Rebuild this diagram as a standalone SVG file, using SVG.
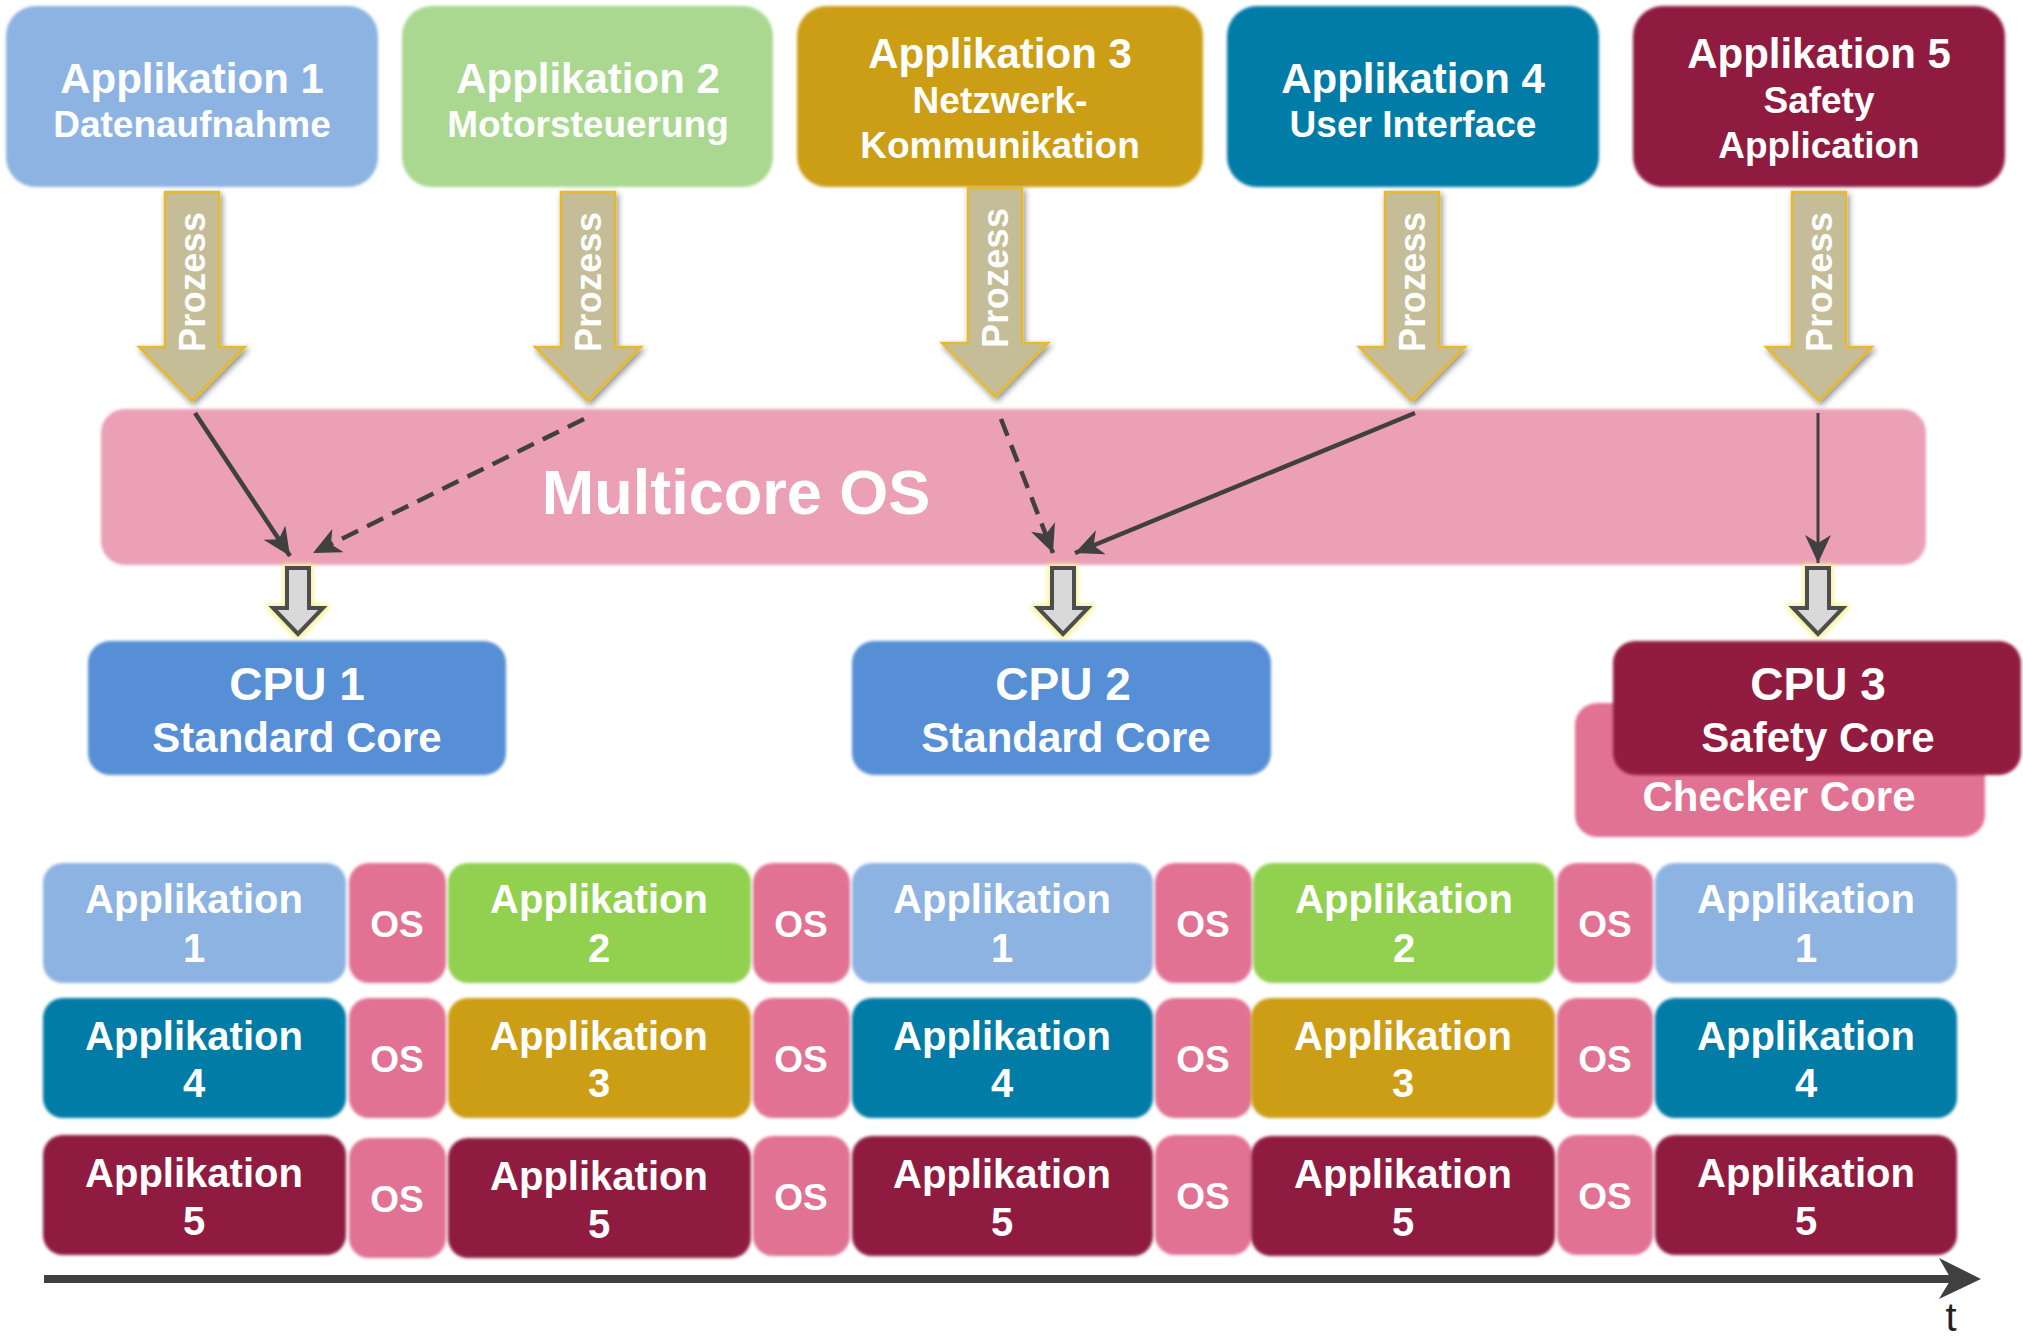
<svg xmlns="http://www.w3.org/2000/svg" width="2023" height="1339" viewBox="0 0 2023 1339">
<style>
text{font-family:"Liberation Sans",Arial,sans-serif;font-weight:bold;fill:#fff;text-anchor:middle}
.t1{font-size:42px}
.t2{font-size:37px}
.cpu{font-size:46px}
.core{font-size:42px}
.tl{font-size:40px}
.os{font-size:37px}
.pz{font-size:36px}
.c1{fill:#8db3e2}.c2{fill:#aad890}.c3{fill:#cc9e12}.c4{fill:#017ba7}.c5{fill:#8f1b3f}
.g2{fill:#92d050}.osf{fill:#e27294}
.con{fill:none;stroke:#404040;stroke-width:4.5;marker-end:url(#ah)}
.dash{stroke-dasharray:18 10}
.proz{fill:#c4bd97;stroke:#e8b92a;stroke-width:2.5}
.gray{fill:#d9d9d9;stroke:#4d4d4d;stroke-width:4}
</style>
<defs>
<filter id="soft" x="-5%" y="-5%" width="110%" height="110%"><feGaussianBlur stdDeviation="1.4"/></filter>
<filter id="shadow" x="-30%" y="-10%" width="160%" height="130%">
<feGaussianBlur in="SourceAlpha" stdDeviation="3"/><feOffset dx="2" dy="3" result="b"/>
<feComponentTransfer in="b" result="s"><feFuncA type="linear" slope="0.45"/></feComponentTransfer>
<feMerge><feMergeNode in="s"/><feMergeNode in="SourceGraphic"/></feMerge></filter>
<filter id="glow" x="-60%" y="-30%" width="220%" height="160%">
<feMorphology in="SourceAlpha" operator="dilate" radius="2" result="d"/>
<feGaussianBlur in="d" stdDeviation="2.5" result="bl"/>
<feFlood flood-color="#f4f08a" flood-opacity="0.9"/><feComposite in2="bl" operator="in" result="g"/>
<feMerge><feMergeNode in="g"/><feMergeNode in="SourceGraphic"/></feMerge></filter>
<marker id="ah" markerUnits="userSpaceOnUse" markerWidth="30" markerHeight="26" refX="28" refY="13" orient="auto">
<path d="M0,0 L28,13 L0,26 L8,13 Z" fill="#404040"/></marker>
<path id="proz" d="M-27,0 H27 V155 H53 L0,209 L-53,155 H-27 Z"/>
<path id="garr" d="M-11,568 H11 V608 H25 L0,634 L-25,608 H-11 Z"/>
</defs>
<rect width="2023" height="1339" fill="#fff"/>

<!-- Multicore OS -->
<g id="multicore-os">
<rect x="101" y="409" width="1825" height="156" rx="24" fill="#eba0b5" filter="url(#soft)"/>
<text x="736" y="514" style="font-size:63px">Multicore OS</text>
</g>

<!-- Top applications -->
<g id="app1">
<rect x="6" y="6" width="372" height="181" rx="30" class="c1" filter="url(#soft)"/>
<text x="192" y="93" class="t1">Applikation 1</text>
<text x="192" y="137" class="t2">Datenaufnahme</text>
</g>
<g id="app2">
<rect x="402" y="6" width="371" height="181" rx="30" class="c2" filter="url(#soft)"/>
<text x="588" y="93" class="t1">Applikation 2</text>
<text x="588" y="137" class="t2">Motorsteuerung</text>
</g>
<g id="app3">
<rect x="797" y="6" width="406" height="181" rx="30" class="c3" filter="url(#soft)"/>
<text x="1000" y="68" class="t1">Applikation 3</text>
<text x="1000" y="113" class="t2">Netzwerk-</text>
<text x="1000" y="158" class="t2">Kommunikation</text>
</g>
<g id="app4">
<rect x="1227" y="6" width="372" height="181" rx="30" class="c4" filter="url(#soft)"/>
<text x="1413" y="93" class="t1">Applikation 4</text>
<text x="1413" y="137" class="t2">User Interface</text>
</g>
<g id="app5">
<rect x="1633" y="6" width="372" height="181" rx="30" class="c5" filter="url(#soft)"/>
<text x="1819" y="68" class="t1">Applikation 5</text>
<text x="1819" y="113" class="t2">Safety</text>
<text x="1819" y="158" class="t2">Application</text>
</g>

<!-- Prozess arrows -->
<g id="prozess-arrows">
<g id="proz1"><use href="#proz" transform="translate(192,192)" class="proz" filter="url(#shadow)"/><text class="pz" transform="translate(192,282) rotate(-90)" y="13" textLength="140">Prozess</text></g>
<g id="proz2"><use href="#proz" transform="translate(588,192)" class="proz" filter="url(#shadow)"/><text class="pz" transform="translate(588,282) rotate(-90)" y="13" textLength="140">Prozess</text></g>
<g id="proz3"><use href="#proz" transform="translate(995,188)" class="proz" filter="url(#shadow)"/><text class="pz" transform="translate(995,278) rotate(-90)" y="13" textLength="140">Prozess</text></g>
<g id="proz4"><use href="#proz" transform="translate(1412,192)" class="proz" filter="url(#shadow)"/><text class="pz" transform="translate(1412,282) rotate(-90)" y="13" textLength="140">Prozess</text></g>
<g id="proz5"><use href="#proz" transform="translate(1819,192)" class="proz" filter="url(#shadow)"/><text class="pz" transform="translate(1819,282) rotate(-90)" y="13" textLength="140">Prozess</text></g>
</g>

<!-- CPU input arrows -->
<g id="cpu-arrows">
<use href="#garr" transform="translate(298,0)" class="gray" filter="url(#glow)"/>
<use href="#garr" transform="translate(1063,0)" class="gray" filter="url(#glow)"/>
<use href="#garr" transform="translate(1818,0)" class="gray" filter="url(#glow)"/>
</g>

<!-- Connectors -->
<g id="connectors">
<path class="con" d="M195,413 L290,556"/>
<path class="con dash" d="M584,419 L313,553"/>
<path class="con dash" d="M1001,419 L1053,553"/>
<path class="con" d="M1415,413 L1075,553"/>
<path class="con" style="stroke-width:3" d="M1818,413 L1818,563"/>
</g>

<!-- CPUs -->
<g id="cpu1">
<rect x="88" y="641" width="418" height="134" rx="22" fill="#568fd5" filter="url(#soft)"/>
<text x="297" y="700" class="cpu">CPU 1</text>
<text x="297" y="752" class="core">Standard Core</text>
</g>
<g id="cpu2">
<rect x="852" y="641" width="419" height="134" rx="22" fill="#568fd5" filter="url(#soft)"/>
<text x="1063" y="700" class="cpu">CPU 2</text>
<text x="1066" y="752" class="core">Standard Core</text>
</g>
<g id="checker-core">
<rect x="1575" y="703" width="410" height="134" rx="22" fill="#e27294" filter="url(#soft)"/>
<text x="1779" y="811" class="core">Checker Core</text>
</g>
<g id="cpu3">
<rect x="1613" y="641" width="408" height="134" rx="22" fill="#921c40" filter="url(#soft)"/>
<text x="1818" y="700" class="cpu">CPU 3</text>
<text x="1818" y="752" class="core">Safety Core</text>
</g>

<!-- Timeline -->
<g id="timeline-row1">
<g id="r1a1"><rect x="43" y="863" width="303" height="120" rx="20" class="c1" filter="url(#soft)"/><text x="194" y="913" class="tl">Applikation</text><text x="194" y="962" class="tl">1</text></g>
<g id="r1o1"><rect x="349" y="863" width="97" height="120" rx="20" class="osf" filter="url(#soft)"/><text x="397" y="937" class="os">OS</text></g>
<g id="r1a2"><rect x="448" y="863" width="303" height="120" rx="20" class="g2" filter="url(#soft)"/><text x="599" y="913" class="tl">Applikation</text><text x="599" y="962" class="tl">2</text></g>
<g id="r1o2"><rect x="753" y="863" width="97" height="120" rx="20" class="osf" filter="url(#soft)"/><text x="801" y="937" class="os">OS</text></g>
<g id="r1a3"><rect x="852" y="863" width="301" height="120" rx="20" class="c1" filter="url(#soft)"/><text x="1002" y="913" class="tl">Applikation</text><text x="1002" y="962" class="tl">1</text></g>
<g id="r1o3"><rect x="1155" y="863" width="97" height="120" rx="20" class="osf" filter="url(#soft)"/><text x="1203" y="937" class="os">OS</text></g>
<g id="r1a4"><rect x="1253" y="863" width="302" height="120" rx="20" class="g2" filter="url(#soft)"/><text x="1404" y="913" class="tl">Applikation</text><text x="1404" y="962" class="tl">2</text></g>
<g id="r1o4"><rect x="1557" y="863" width="96" height="120" rx="20" class="osf" filter="url(#soft)"/><text x="1605" y="937" class="os">OS</text></g>
<g id="r1a5"><rect x="1655" y="863" width="302" height="120" rx="20" class="c1" filter="url(#soft)"/><text x="1806" y="913" class="tl">Applikation</text><text x="1806" y="962" class="tl">1</text></g>
</g>
<g id="timeline-row2">
<g id="r2a1"><rect x="43" y="998" width="303" height="120" rx="20" class="c4" filter="url(#soft)"/><text x="194" y="1050" class="tl">Applikation</text><text x="194" y="1097" class="tl">4</text></g>
<g id="r2o1"><rect x="349" y="998" width="97" height="120" rx="20" class="osf" filter="url(#soft)"/><text x="397" y="1072" class="os">OS</text></g>
<g id="r2a2"><rect x="448" y="998" width="303" height="120" rx="20" class="c3" filter="url(#soft)"/><text x="599" y="1050" class="tl">Applikation</text><text x="599" y="1097" class="tl">3</text></g>
<g id="r2o2"><rect x="753" y="998" width="97" height="120" rx="20" class="osf" filter="url(#soft)"/><text x="801" y="1072" class="os">OS</text></g>
<g id="r2a3"><rect x="852" y="998" width="301" height="120" rx="20" class="c4" filter="url(#soft)"/><text x="1002" y="1050" class="tl">Applikation</text><text x="1002" y="1097" class="tl">4</text></g>
<g id="r2o3"><rect x="1155" y="998" width="97" height="120" rx="20" class="osf" filter="url(#soft)"/><text x="1203" y="1072" class="os">OS</text></g>
<g id="r2a4"><rect x="1251" y="998" width="304" height="120" rx="20" class="c3" filter="url(#soft)"/><text x="1403" y="1050" class="tl">Applikation</text><text x="1403" y="1097" class="tl">3</text></g>
<g id="r2o4"><rect x="1557" y="998" width="96" height="120" rx="20" class="osf" filter="url(#soft)"/><text x="1605" y="1072" class="os">OS</text></g>
<g id="r2a5"><rect x="1655" y="998" width="302" height="120" rx="20" class="c4" filter="url(#soft)"/><text x="1806" y="1050" class="tl">Applikation</text><text x="1806" y="1097" class="tl">4</text></g>
</g>
<g id="timeline-row3">
<g id="r3a1"><rect x="43" y="1135" width="303" height="120" rx="20" class="c5" filter="url(#soft)"/><text x="194" y="1187" class="tl">Applikation</text><text x="194" y="1235" class="tl">5</text></g>
<g id="r3o1"><rect x="349" y="1138" width="97" height="120" rx="20" class="osf" filter="url(#soft)"/><text x="397" y="1212" class="os">OS</text></g>
<g id="r3a2"><rect x="448" y="1138" width="303" height="120" rx="20" class="c5" filter="url(#soft)"/><text x="599" y="1190" class="tl">Applikation</text><text x="599" y="1238" class="tl">5</text></g>
<g id="r3o2"><rect x="753" y="1136" width="97" height="120" rx="20" class="osf" filter="url(#soft)"/><text x="801" y="1210" class="os">OS</text></g>
<g id="r3a3"><rect x="852" y="1136" width="301" height="120" rx="20" class="c5" filter="url(#soft)"/><text x="1002" y="1188" class="tl">Applikation</text><text x="1002" y="1236" class="tl">5</text></g>
<g id="r3o3"><rect x="1155" y="1135" width="97" height="120" rx="20" class="osf" filter="url(#soft)"/><text x="1203" y="1209" class="os">OS</text></g>
<g id="r3a4"><rect x="1251" y="1136" width="304" height="120" rx="20" class="c5" filter="url(#soft)"/><text x="1403" y="1188" class="tl">Applikation</text><text x="1403" y="1236" class="tl">5</text></g>
<g id="r3o4"><rect x="1557" y="1135" width="96" height="120" rx="20" class="osf" filter="url(#soft)"/><text x="1605" y="1209" class="os">OS</text></g>
<g id="r3a5"><rect x="1655" y="1135" width="302" height="120" rx="20" class="c5" filter="url(#soft)"/><text x="1806" y="1187" class="tl">Applikation</text><text x="1806" y="1235" class="tl">5</text></g>
</g>

<!-- Time axis -->
<g id="time-axis">
<path d="M44,1279 H1960" stroke="#404040" stroke-width="8" fill="none"/>
<path d="M1939,1258 L1981,1279 L1939,1299 L1951,1279 Z" fill="#404040"/>
<text x="1951" y="1331" style="font-weight:normal;font-size:40px;fill:#222">t</text>
</g>
</svg>
